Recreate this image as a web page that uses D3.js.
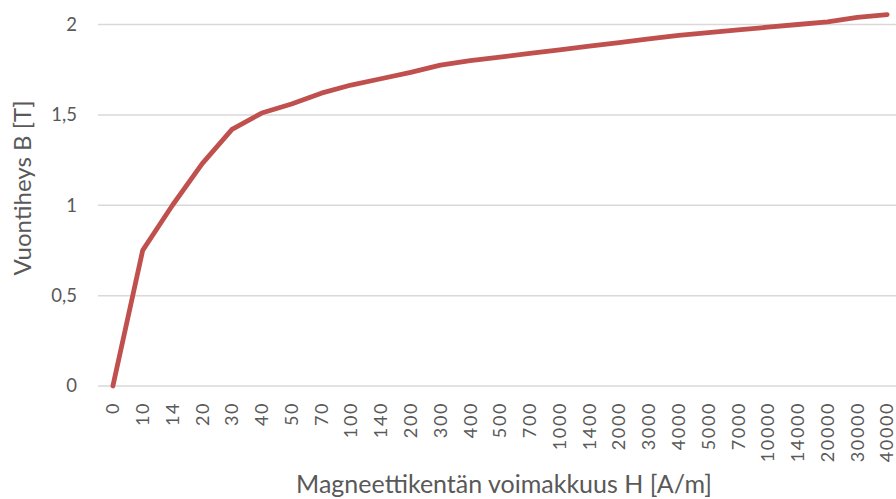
<!DOCTYPE html>
<html>
<head>
<meta charset="utf-8">
<script src="https://cdn.jsdelivr.net/npm/d3@7"></script>
<style>
  body { margin: 0; background: #fff; overflow: hidden; }
  text { font-family: Lato, "Open Sans", sans-serif; fill: #595959; }
</style>
</head>
<body>
<script>
// H values (category axis) and flux density B
var hLabels = ['0', '10', '14', '20', '30', '40', '50', '70', '100', '140', '200', '300', '400', '500',
  '700', '1000', '1400', '2000', '3000', '4000', '5000', '7000', '10000', '14000', '20000', '30000', '40000'];
var bValues = [0, 0.75, 1.0, 1.23, 1.42, 1.51, 1.56, 1.62, 1.665, 1.70, 1.735, 1.775, 1.80, 1.82,
  1.84, 1.86, 1.88, 1.90, 1.92, 1.94, 1.955, 1.97, 1.985, 2.0, 2.015, 2.04, 2.055];
var yTicks = [0, 0.5, 1, 1.5, 2];

var width = 896;
var height = 499;

var svg = d3.select('body')
            .append('svg')
            .attr('width', width)
            .attr('height', height);

var x = d3.scaleBand()
          .domain(hLabels)
          .range([98, 902]);

var y = d3.scaleLinear()
          .domain([0, 2])
          .range([386, 24.5]);

// gridlines
svg.selectAll('line.grid')
   .data(yTicks)
   .enter()
   .append('line')
   .attr('class', 'grid')
   .attr('x1', 98)
   .attr('x2', 902)
   .attr('y1', function(d) { return y(d); })
   .attr('y2', function(d) { return y(d); })
   .attr('stroke', '#d9d9d9')
   .attr('stroke-width', 1.5);

// y tick labels
svg.selectAll('text.ytick')
   .data(yTicks)
   .enter()
   .append('text')
   .attr('class', 'ytick')
   .attr('x', 77)
   .attr('y', function(d) { return y(d); })
   .attr('dy', '0.35em')
   .attr('text-anchor', 'end')
   .style('font-size', '18.5px')
   .text(function(d) { return String(d).replace('.', ','); });

// x tick labels, rotated
svg.selectAll('text.xtick')
   .data(hLabels)
   .enter()
   .append('text')
   .attr('class', 'xtick')
   .attr('transform', function(d) {
     return 'translate(' + (x(d) + x.bandwidth() / 2) + ',402) rotate(-90)';
   })
   .attr('dy', '0.35em')
   .attr('text-anchor', 'end')
   .style('font-size', '18px')
   .style('letter-spacing', '1.6px')
   .text(function(d) { return d; });

var line = d3.line()
             .x(function(d, i) { return x(hLabels[i]) + x.bandwidth() / 2; })
             .y(function(d) { return y(d); });

svg.append('path')
   .datum(bValues)
   .attr('d', line)
   .attr('fill', 'none')
   .attr('stroke', '#c0504d')
   .attr('stroke-width', 4.8)
   .attr('stroke-linejoin', 'round')
   .attr('stroke-linecap', 'round');

// axis titles
svg.append('text')
   .attr('transform', 'translate(31,188) rotate(-90)')
   .attr('text-anchor', 'middle')
   .style('font-size', '24px')
   .text('Vuontiheys B [T]');

svg.append('text')
   .attr('x', 504)
   .attr('y', 493)
   .attr('text-anchor', 'middle')
   .style('font-size', '25px')
   .text('Magneettikentän voimakkuus H [A/m]');
</script>
</body>
</html>
